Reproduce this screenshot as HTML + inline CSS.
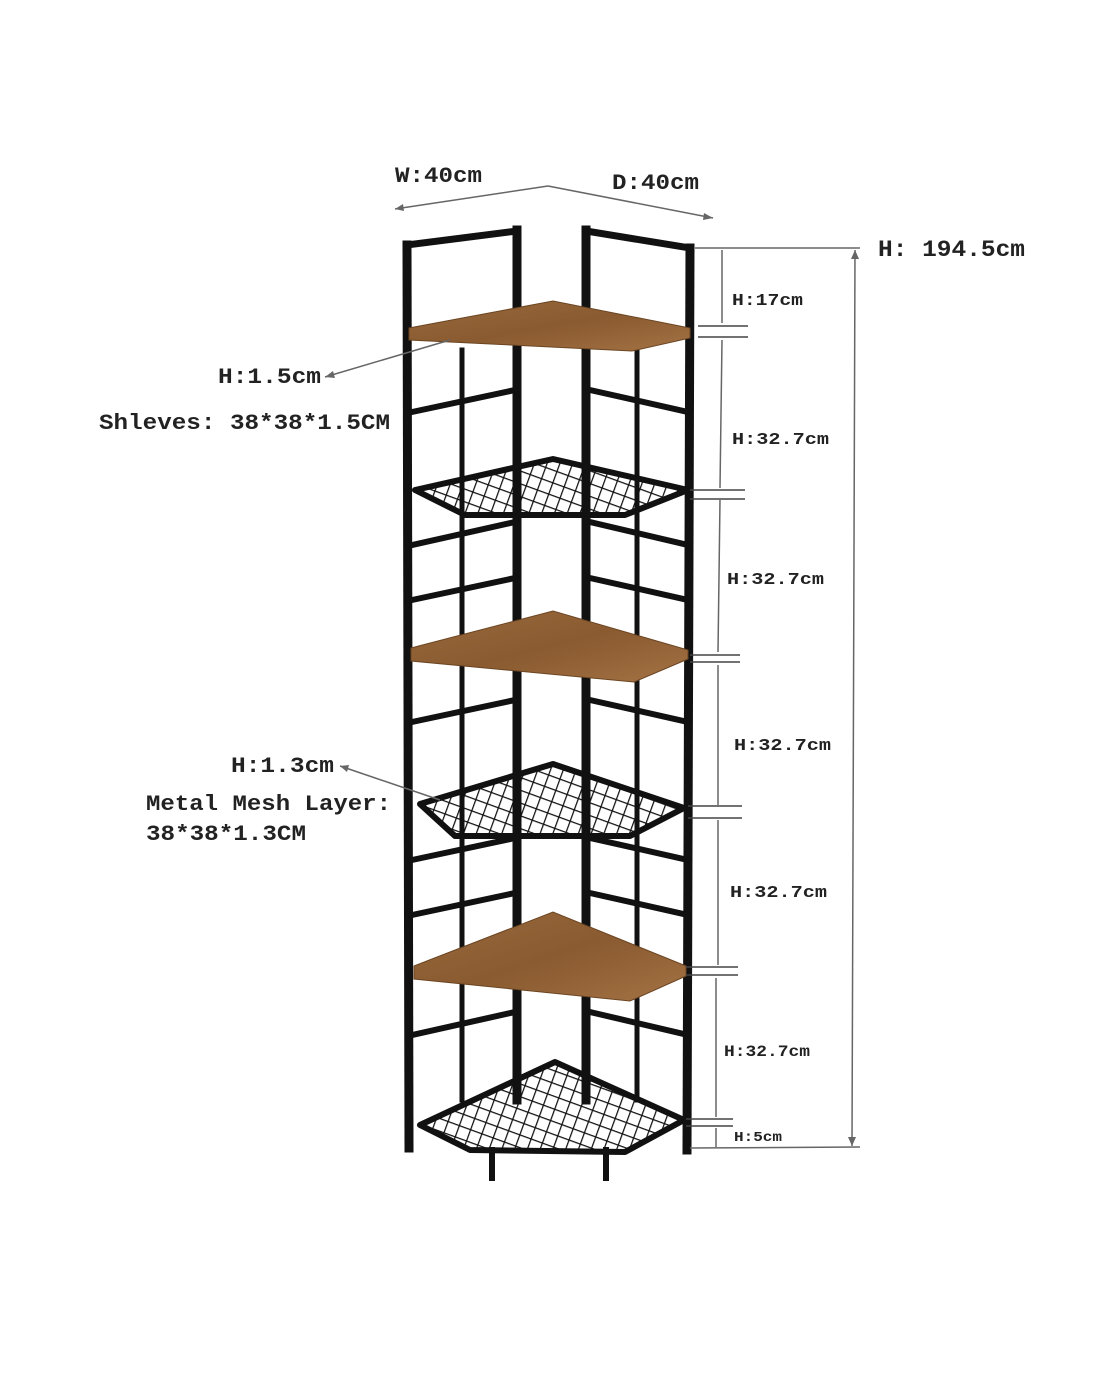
<!DOCTYPE html><html><head><style>body{margin:0;background:#fff}svg{display:block}text{font-family:"Liberation Mono",monospace;font-weight:bold;fill:#222}</style></head><body>
<svg width="1100" height="1375" viewBox="0 0 1100 1375">
<defs>
<linearGradient id="w" x1="0" y1="0" x2="1" y2="1"><stop offset="0" stop-color="#9a6a3e"/><stop offset=".5" stop-color="#8a5a30"/><stop offset="1" stop-color="#a37244"/></linearGradient>
<pattern id="m" width="12" height="12" patternUnits="userSpaceOnUse" patternTransform="rotate(20)"><path d="M0 0H12M0 0V12" stroke="#111" stroke-width="2.5" fill="none"/></pattern>
</defs>
<g stroke="#111" stroke-linecap="square" fill="none">
<line x1="407" y1="245" x2="409" y2="1148" stroke-width="9"/>
<line x1="517" y1="230" x2="517" y2="1100" stroke-width="9"/>
<line x1="586" y1="230" x2="586" y2="1100" stroke-width="9"/>
<line x1="690" y1="248" x2="687" y2="1150" stroke-width="9"/>
<line x1="407" y1="245" x2="517" y2="231" stroke-width="7"/>
<line x1="586" y1="231" x2="690" y2="248" stroke-width="7"/>
<line x1="462" y1="350" x2="462" y2="1100" stroke-width="5"/>
<line x1="637" y1="350" x2="637" y2="1100" stroke-width="5"/>
<g stroke-width="6">
<line x1="412" y1="412" x2="515" y2="390"/><line x1="590" y1="390" x2="688" y2="412"/>
<line x1="412" y1="545" x2="515" y2="522"/><line x1="590" y1="522" x2="688" y2="545"/>
<line x1="412" y1="600" x2="515" y2="578"/><line x1="590" y1="578" x2="688" y2="600"/>
<line x1="412" y1="722" x2="515" y2="700"/><line x1="590" y1="700" x2="688" y2="722"/>
<line x1="412" y1="860" x2="515" y2="838"/><line x1="590" y1="838" x2="688" y2="860"/>
<line x1="412" y1="915" x2="515" y2="893"/><line x1="590" y1="893" x2="688" y2="915"/>
<line x1="412" y1="1035" x2="515" y2="1012"/><line x1="590" y1="1012" x2="688" y2="1035"/>
</g>
<line x1="492" y1="1150" x2="492" y2="1178" stroke-width="6"/>
<line x1="606" y1="1150" x2="606" y2="1178" stroke-width="6"/>
</g>
<g fill="url(#w)" stroke="#6b4522" stroke-width="1">
<polygon points="409,328 553,301 690,328 690,338 632,351 409,340"/>
<polygon points="411,648 553,611 688,650 688,659 634,682 411,661"/>
<polygon points="414,966 553,912 686,966 686,976 630,1001 414,979"/>
</g>
<g stroke="#111" stroke-width="6" fill="url(#m)" stroke-linejoin="round">
<polygon points="415,490 553,459 688,490 625,515 465,515"/>
<polygon points="420,804 553,764 684,808 630,836 455,836"/>
<polygon points="420,1125 555,1062 684,1120 625,1152 470,1150"/>
</g>
<g stroke="#666" stroke-width="1.5" fill="none">
<line x1="395" y1="209" x2="548" y2="186"/><line x1="548" y1="186" x2="713" y2="218"/>
<line x1="695" y1="248" x2="860" y2="248"/><line x1="690" y1="1148" x2="860" y2="1147"/>
<line x1="855" y1="250" x2="852" y2="1146"/>
<line x1="722" y1="250" x2="722" y2="323"/><line x1="722" y1="340" x2="720" y2="488"/>
<line x1="720" y1="500" x2="718" y2="652"/><line x1="718" y1="665" x2="718" y2="805"/>
<line x1="718" y1="820" x2="718" y2="965"/><line x1="716" y1="978" x2="716" y2="1117"/>
<line x1="716" y1="1128" x2="716" y2="1147"/>
<g stroke="#444" stroke-width="1.5">
<line x1="698" y1="326" x2="748" y2="326"/><line x1="698" y1="337" x2="748" y2="337"/>
<line x1="690" y1="490" x2="745" y2="490"/><line x1="690" y1="499" x2="745" y2="499"/>
<line x1="690" y1="655" x2="740" y2="655"/><line x1="690" y1="662" x2="740" y2="662"/>
<line x1="688" y1="806" x2="742" y2="806"/><line x1="688" y1="818" x2="742" y2="818"/>
<line x1="686" y1="967" x2="738" y2="967"/><line x1="686" y1="975" x2="738" y2="975"/>
<line x1="686" y1="1119" x2="733" y2="1119"/><line x1="686" y1="1126" x2="733" y2="1126"/>
</g>
<line x1="325" y1="377" x2="450" y2="340"/><line x1="340" y1="766" x2="440" y2="800"/>
</g>
<g fill="#666"><polygon points="395,209 403,204 404,211"/><polygon points="713,218 704,213 703,220"/><polygon points="325,377 333,371 335,378"/><polygon points="340,766 349,765 347,772"/><polygon points="855,250 851,259 859,259"/><polygon points="852,1146 848,1137 856,1137"/></g>
<text x="395" y="182" font-size="22" textLength="87" lengthAdjust="spacingAndGlyphs">W:40cm</text>
<text x="612" y="189" font-size="22" textLength="87" lengthAdjust="spacingAndGlyphs">D:40cm</text>
<text x="878" y="256" font-size="23" textLength="147" lengthAdjust="spacingAndGlyphs">H: 194.5cm</text>
<text x="732" y="305" font-size="17" textLength="71" lengthAdjust="spacingAndGlyphs">H:17cm</text>
<text x="732" y="444" font-size="17" textLength="97" lengthAdjust="spacingAndGlyphs">H:32.7cm</text>
<text x="727" y="584" font-size="17" textLength="97" lengthAdjust="spacingAndGlyphs">H:32.7cm</text>
<text x="734" y="750" font-size="17" textLength="97" lengthAdjust="spacingAndGlyphs">H:32.7cm</text>
<text x="730" y="897" font-size="17" textLength="97" lengthAdjust="spacingAndGlyphs">H:32.7cm</text>
<text x="724" y="1056" font-size="16" textLength="86" lengthAdjust="spacingAndGlyphs">H:32.7cm</text>
<text x="734" y="1141" font-size="14" textLength="48" lengthAdjust="spacingAndGlyphs">H:5cm</text>
<text x="218" y="383" font-size="22" textLength="103" lengthAdjust="spacingAndGlyphs">H:1.5cm</text>
<text x="99" y="429" font-size="22" textLength="291" lengthAdjust="spacingAndGlyphs">Shleves: 38*38*1.5CM</text>
<text x="231" y="772" font-size="22" textLength="103" lengthAdjust="spacingAndGlyphs">H:1.3cm</text>
<text x="146" y="810" font-size="22" textLength="245" lengthAdjust="spacingAndGlyphs">Metal Mesh Layer:</text>
<text x="146" y="840" font-size="22" textLength="160" lengthAdjust="spacingAndGlyphs">38*38*1.3CM</text>
</svg></body></html>
